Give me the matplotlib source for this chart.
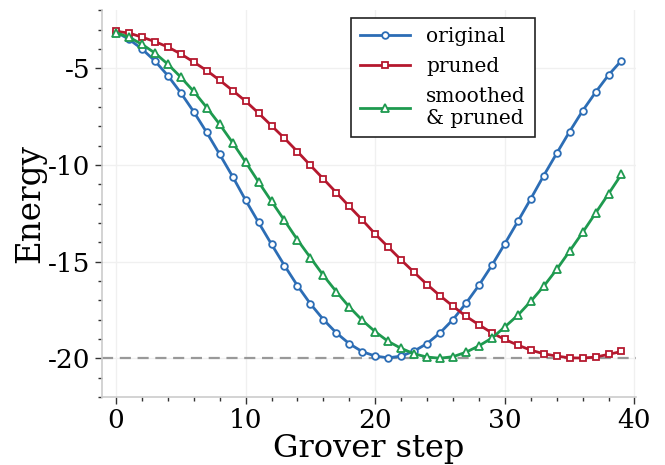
import matplotlib
matplotlib.use("Agg")
import matplotlib.pyplot as plt
from matplotlib.ticker import MultipleLocator

steps = list(range(40))

original = [-3.13, -3.5, -4.0, -4.62, -5.38, -6.27, -7.25, -8.32, -9.45, -10.6,
            -11.82, -12.97, -14.1, -15.2, -16.24, -17.18, -17.99, -18.68, -19.24, -19.65,
            -19.88, -19.97, -19.88, -19.62, -19.23, -18.68, -17.99, -17.15, -16.22, -15.19,
            -14.07, -12.92, -11.75, -10.55, -9.4, -8.27, -7.2, -6.24, -5.35, -4.6]

pruned = [-3.09, -3.18, -3.39, -3.62, -3.9, -4.26, -4.68, -5.12, -5.62, -6.15,
          -6.7, -7.32, -7.97, -8.62, -9.31, -10.02, -10.72, -11.43, -12.14, -12.84,
          -13.57, -14.24, -14.91, -15.55, -16.18, -16.76, -17.3, -17.82, -18.26, -18.68,
          -19.02, -19.31, -19.57, -19.76, -19.88, -19.97, -19.98, -19.93, -19.79, -19.64]

smoothed_pruned = [-3.16, -3.39, -3.76, -4.21, -4.79, -5.46, -6.2, -7.03, -7.9, -8.85,
                   -9.85, -10.88, -11.88, -12.87, -13.87, -14.79, -15.71, -16.55, -17.34, -18.03,
                   -18.62, -19.12, -19.48, -19.76, -19.93, -19.99, -19.91, -19.68, -19.35, -18.95,
                   -18.37, -17.77, -17.05, -16.27, -15.4, -14.45, -13.49, -12.49, -11.49, -10.48]

ground_energy = -20

plt.rcParams['font.family'] = ['DejaVu Serif']

fig = plt.figure(figsize=(6.65, 4.65), dpi=100)
ax = fig.add_axes([0.153, 0.146, 0.803, 0.832])

ax.axhline(ground_energy, color='#999999', linestyle='--', linewidth=1.6, dashes=(5, 3), zorder=1)

ax.plot(steps, original, color='#2c6db5', linewidth=2, marker='o', markersize=4.8,
        markerfacecolor='white', markeredgewidth=1.3, label='original', zorder=3)
ax.plot(steps, pruned, color='#b5182e', linewidth=2, marker='s', markersize=4.8,
        markerfacecolor='white', markeredgewidth=1.3, label='pruned', zorder=3)
ax.plot(steps, smoothed_pruned, color='#1e9a4f', linewidth=2, marker='^', markersize=5.2,
        markerfacecolor='white', markeredgewidth=1.3, label='smoothed\n& pruned', zorder=3)

ax.set_xlim(-1.1, 40.1)
ax.set_ylim(-22, -2)
ax.xaxis.set_major_locator(MultipleLocator(10))
ax.xaxis.set_minor_locator(MultipleLocator(2))
ax.yaxis.set_minor_locator(MultipleLocator(1))
ax.set_yticks([-5, -10, -15, -20])
ax.set_yticklabels(['-5', '-10', '-15', '-20'])

ax.grid(True, which='major', color='#f0f0f0', linewidth=1, zorder=0)
ax.set_axisbelow(True)
for side in ['top', 'right']:
    ax.spines[side].set_visible(False)
for side in ['left', 'bottom']:
    ax.spines[side].set_color('#cccccc')
    ax.spines[side].set_linewidth(1.2)

ax.tick_params(which='major', labelsize=19, length=5, width=1, color='#333333', pad=3)
ax.tick_params(which='minor', length=3, width=1, color='#333333')

ax.set_xlabel('Grover step', fontsize=23, labelpad=0)
ax.set_ylabel('Energy', fontsize=23.5, labelpad=1)

leg = ax.legend(loc='upper left', bbox_to_anchor=(0.466, 0.98), borderaxespad=0,
                fontsize=14.5, handlelength=2.5, fancybox=False, framealpha=1,
                borderpad=0.45, labelspacing=0.55, handletextpad=0.8)
leg.get_frame().set_edgecolor('#222222')
leg.get_frame().set_linewidth(1.2)

plt.savefig("out.png", dpi=100)
